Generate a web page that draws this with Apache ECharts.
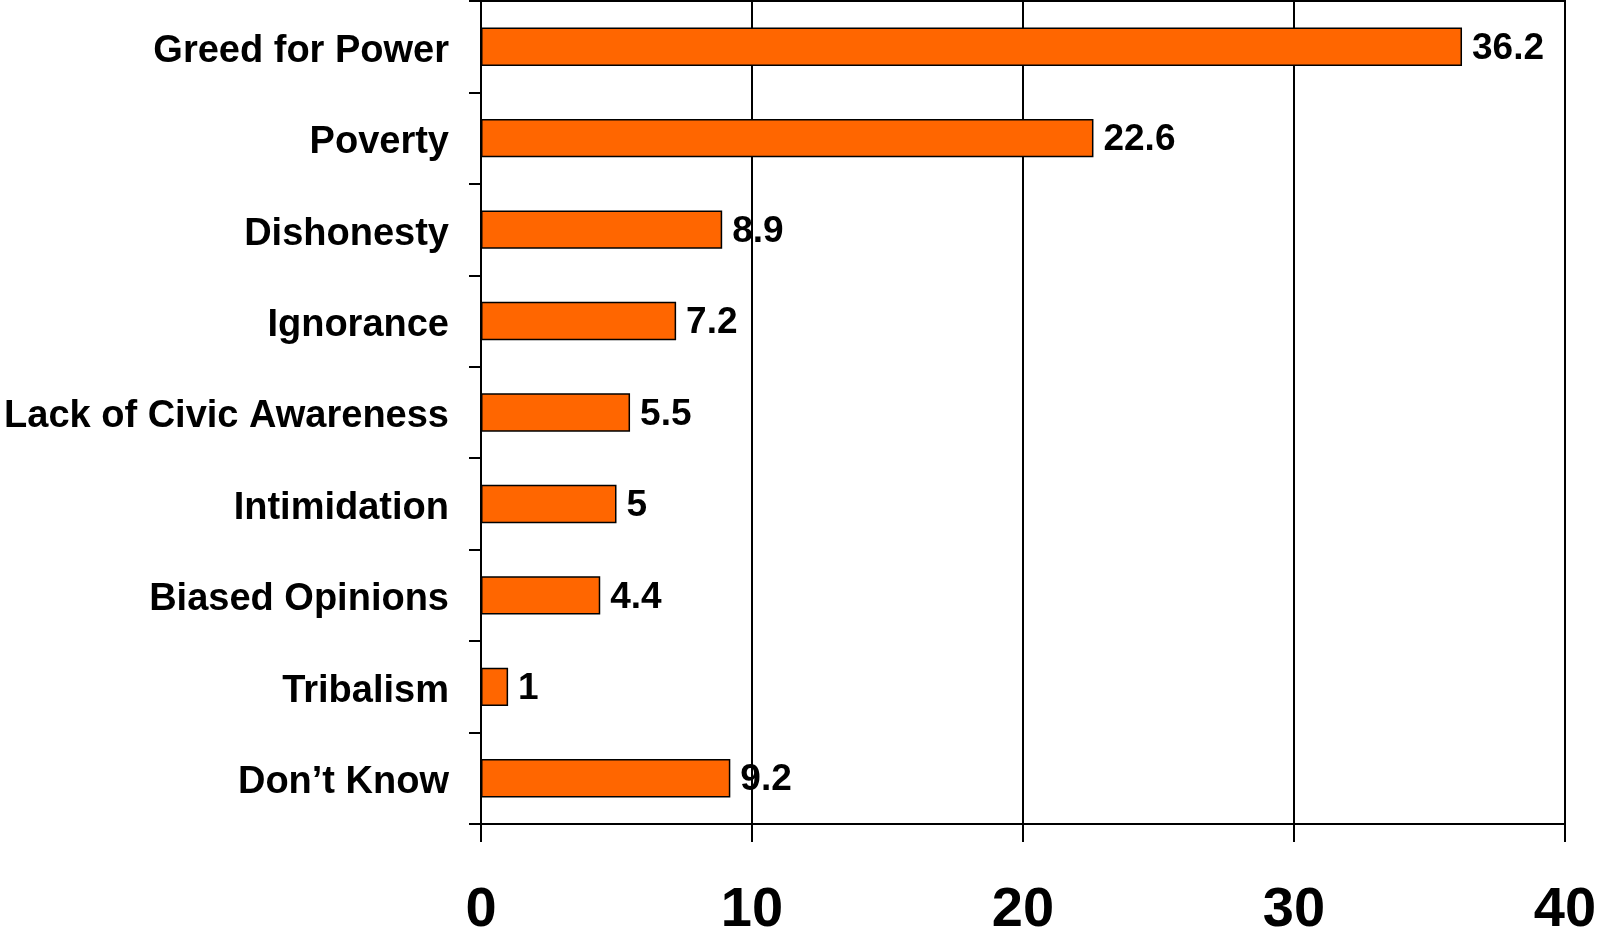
<!DOCTYPE html>
<html>
<head>
    <meta charset="utf-8">
    <title>ECharts</title>
    <script src="https://cdn.jsdelivr.net/npm/echarts@6/dist/echarts.min.js"></script>
    <style>
        html, body { margin: 0; padding: 0; background: #fff; }
    </style>
</head>
<body>
 <div id="main" style="width: 1600px;height:931px;"></div>
 <script type="text/javascript">
 // categories, top to bottom
 var categories = ['Greed for Power', 'Poverty', 'Dishonesty', 'Ignorance',
     'Lack of Civic Awareness', 'Intimidation', 'Biased Opinions', 'Tribalism', 'Don\u2019t Know'];
 var values = [36.2, 22.6, 8.9, 7.2, 5.5, 5, 4.4, 1, 9.2];
 var xTicks = [0, 10, 20, 30, 40];

 var font = '"Liberation Sans", Arial, sans-serif';
 var myChart = echarts.init(document.getElementById('main'));
 myChart.setOption({
     animation: false,
     grid: {
         left: 481,
         right: 35,
         top: 1,
         bottom: 107,
         outerBoundsMode: 'none',
         show: true,
         borderColor: '#000',
         borderWidth: 2
     },
     xAxis: {
         type: 'value',
         min: xTicks[0],
         max: xTicks[xTicks.length - 1],
         interval: 10,
         axisLine: { show: true, lineStyle: { color: '#000', width: 2 } },
         axisTick: { show: true, length: 18, lineStyle: { color: '#000', width: 2 } },
         splitLine: { show: true, lineStyle: { color: '#000', width: 2 } },
         axisLabel: {
             margin: 59,
             color: '#000',
             fontSize: 56,
             fontWeight: 'bold',
             fontFamily: font
         }
     },
     yAxis: {
         type: 'category',
         inverse: true,
         data: categories,
         axisLine: { show: true, lineStyle: { color: '#000', width: 2 } },
         axisTick: { show: true, length: 12, lineStyle: { color: '#000', width: 2 } },
         axisLabel: {
             margin: 32,
             color: '#000',
             fontSize: 38,
             fontWeight: 'bold',
             fontFamily: font,
             formatter: '{a|{value}}',
             rich: {
                 a: {
                     color: '#000',
                     fontSize: 38,
                     fontWeight: 'bold',
                     fontFamily: font,
                     padding: [9, 0, 0, 0]
                 }
             }
         }
     },
     series: [{
         type: 'bar',
         data: values,
         barCategoryGap: '58%',
         itemStyle: { color: '#ff6600', borderColor: '#000', borderWidth: 1.5 },
         label: {
             show: true,
             position: 'right',
             distance: 10,
             offset: [0, 2],
             color: '#000',
             fontSize: 37,
             fontWeight: 'bold',
             fontFamily: font
         }
     }]
 });
 </script>
</body>
</html>
